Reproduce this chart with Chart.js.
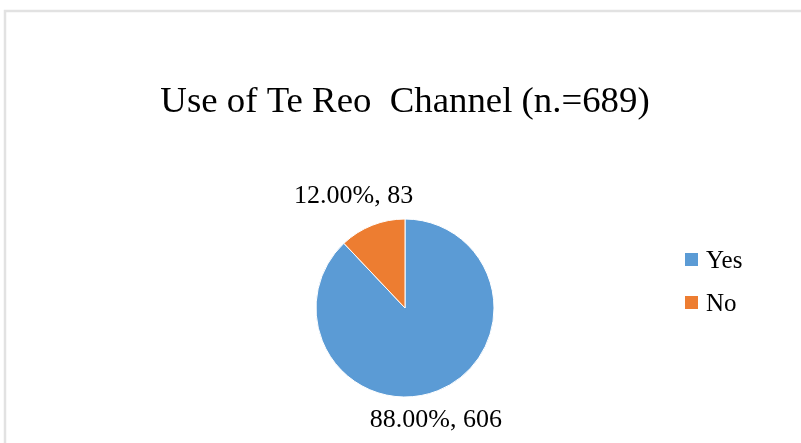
<!DOCTYPE html>
<html>
<head>
<meta charset="utf-8">
<script src="https://cdn.jsdelivr.net/npm/chart.js@4"></script>
<style>
  html, body { margin: 0; padding: 0; background: #ffffff; }
  #wrap { width: 801px; height: 443px; }
</style>
</head>
<body>
<div id="wrap"><canvas id="c" width="801" height="443"></canvas></div>
<script>
// Survey answers for the Te Reo channel question
const categories = ['Yes', 'No'];
const counts = [606, 83];
const percentLabels = ['88.00%', '12.00%'];
const titleText = 'Use of Te Reo  Channel (n.=689)';
const colors = ['#5B9BD5', '#ED7D31'];

const SERIF = "'Liberation Serif', 'Times New Roman', serif";

// Frame, title, slice labels and legend drawn around the pie
const decorations = {
  id: 'decorations',
  beforeDraw(chart) {
    const ctx = chart.ctx;
    ctx.save();
    ctx.fillStyle = '#ffffff';
    ctx.fillRect(0, 0, chart.width, chart.height);
    ctx.strokeStyle = '#e2e2e2';
    ctx.lineWidth = 2.5;
    ctx.beginPath();
    ctx.moveTo(5, chart.height);
    ctx.lineTo(5, 11);
    ctx.lineTo(chart.width, 11);
    ctx.stroke();
    ctx.restore();
  },
  afterDraw(chart, args, opts) {
    const ctx = chart.ctx;
    const meta = chart.getDatasetMeta(0);
    ctx.save();
    ctx.fillStyle = '#000000';

    // title
    ctx.font = opts.titleSize + 'px ' + SERIF;
    ctx.textAlign = 'center';
    ctx.textBaseline = 'alphabetic';
    ctx.fillText(titleText, opts.titleX, opts.titleY);

    // slice labels placed outside each arc along its mid angle
    ctx.font = opts.labelSize + 'px ' + SERIF;
    ctx.textBaseline = 'middle';
    meta.data.forEach((arc, i) => {
      const p = arc.getProps(['x', 'y', 'startAngle', 'endAngle', 'outerRadius'], true);
      const mid = (p.startAngle + p.endAngle) / 2;
      const r = p.outerRadius + opts.labelGap[i];
      const x = p.x + Math.cos(mid) * r + opts.labelShift[i][0];
      const y = p.y + Math.sin(mid) * r + opts.labelShift[i][1];
      ctx.fillText(percentLabels[i] + ', ' + counts[i], x, y);
    });

    // legend
    ctx.font = opts.legendSize + 'px ' + SERIF;
    ctx.textAlign = 'left';
    ctx.textBaseline = 'alphabetic';
    categories.forEach((name, i) => {
      const baseY = opts.legendY + i * opts.legendStep;
      ctx.fillStyle = colors[i];
      ctx.fillRect(opts.legendX, baseY - 15, 13, 13);
      ctx.fillStyle = '#000000';
      ctx.fillText(name, opts.legendX + 21, baseY);
    });
    ctx.restore();
  }
};

new Chart(document.getElementById('c'), {
  type: 'pie',
  data: {
    labels: categories,
    datasets: [{
      data: counts,
      backgroundColor: colors,
      borderColor: '#ffffff',
      borderWidth: 1
    }]
  },
  options: {
    responsive: false,
    animation: false,
    devicePixelRatio: 1,
    radius: 89,
    layout: { padding: { top: 219, bottom: 46, left: 216, right: 207 } },
    plugins: {
      legend: { display: false },
      title: { display: false },
      tooltip: { enabled: false },
      decorations: {
        titleSize: 36.8, titleX: 405, titleY: 112,
        labelSize: 26, labelGap: [27, 34], labelShift: [[-12, 4], [-6, 2]],
        legendSize: 25, legendX: 685, legendY: 268, legendStep: 43
      }
    }
  },
  plugins: [decorations]
});
</script>
</body>
</html>
